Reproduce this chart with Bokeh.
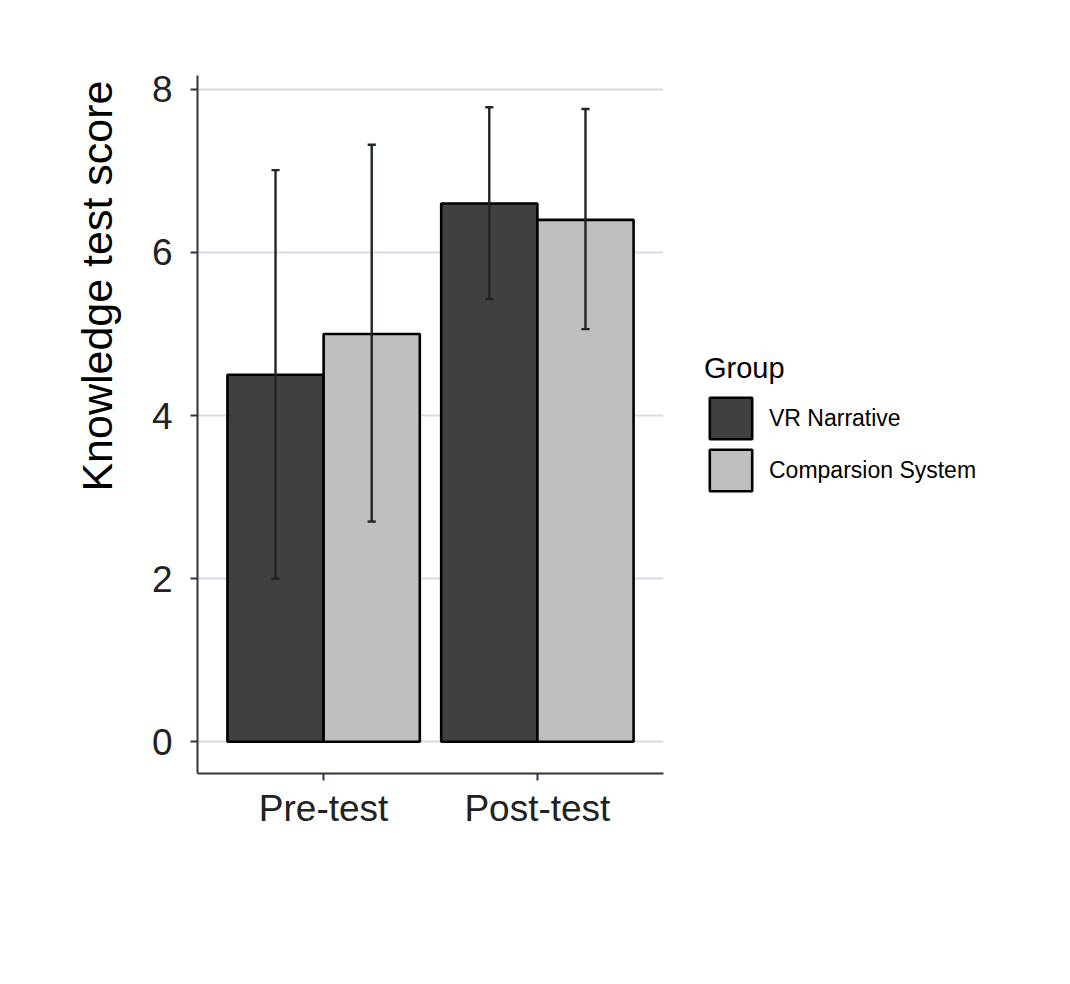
from bokeh.plotting import figure
from bokeh.models import Range1d, FixedTicker, Legend, LegendItem, ColumnDataSource, Title
from bokeh.embed import file_html
from bokeh.resources import INLINE

# ---- data ----
conditions = ["Pre-test", "Post-test"]
groups = ["VR Narrative", "Comparsion System"]
vr_mean = [4.5, 6.6]
vr_low = [2.0, 5.43]
vr_high = [7.01, 7.78]
cs_mean = [5.0, 6.4]
cs_low = [2.70, 5.06]
cs_high = [7.32, 7.76]
y_ticks = [0, 2, 4, 6, 8]
y_title = "Knowledge test score"

colors = ["#404040", "#bfbfbf"]
FONT = "Liberation Sans"
TXT = "#222222"

p = figure(frame_width=466, frame_height=698, output_backend="svg", toolbar_location=None,
           x_range=Range1d(0.41, 2.59), y_range=Range1d(-0.389, 8.17),
           min_border_left=197, min_border_top=75, min_border_right=387,
           min_border_bottom=187)
p.outline_line_color = None
p.background_fill_color = "white"
p.border_fill_color = "white"

xpos = [1, 2]
bw = 0.45
renderers = []
for i, (means, lows, highs) in enumerate([(vr_mean, vr_low, vr_high), (cs_mean, cs_low, cs_high)]):
    off = -bw / 2 if i == 0 else bw / 2
    xs = [x + off for x in xpos]
    src = ColumnDataSource(dict(x=xs, top=means))
    r = p.vbar(x="x", top="top", bottom=0, width=bw, source=src,
               fill_color=colors[i], line_color="black", line_width=2.6)
    renderers.append(r)
for i, (means, lows, highs) in enumerate([(vr_mean, vr_low, vr_high), (cs_mean, cs_low, cs_high)]):
    off = -bw / 2 if i == 0 else bw / 2
    xs = [x + off for x in xpos]
    cap = 0.019
    p.segment(x0=xs, y0=lows, x1=xs, y1=highs, line_color="#1f252b", line_width=2.4)
    p.segment(x0=[x - cap for x in xs], y0=lows, x1=[x + cap for x in xs], y1=lows,
              line_color="#1f252b", line_width=2.4)
    p.segment(x0=[x - cap for x in xs], y0=highs, x1=[x + cap for x in xs], y1=highs,
              line_color="#1f252b", line_width=2.4)

# grid
p.xgrid.grid_line_color = None
p.ygrid.ticker = FixedTicker(ticks=y_ticks)
p.ygrid.grid_line_color = "#d5dce3"
p.ygrid.grid_line_width = 2

# axes
for ax in (p.xaxis[0], p.yaxis[0]):
    ax.axis_line_color = "#2e3640"
    ax.axis_line_width = 2
    ax.major_tick_line_color = "#2e3640"
    ax.major_tick_line_width = 2
    ax.major_tick_out = 7
    ax.major_tick_in = 0
    ax.minor_tick_line_color = None
    ax.major_label_text_font = FONT
    ax.major_label_text_color = TXT
    ax.major_label_text_font_size = "37px"

p.yaxis.ticker = FixedTicker(ticks=y_ticks)
p.yaxis.major_label_standoff = 18

ytitle = Title(text=y_title, align="right", offset=5, standoff=56,
               text_font=FONT, text_font_style="normal", text_font_size="43px",
               text_color="black")
p.add_layout(ytitle, "left")

p.xaxis.ticker = FixedTicker(ticks=xpos)
p.xaxis.major_label_overrides = {1: conditions[0], 2: conditions[1]}
p.xaxis.major_label_standoff = 7

legend = Legend(items=[LegendItem(label=groups[0], renderers=[renderers[0]]),
                       LegendItem(label=groups[1], renderers=[renderers[1]])],
                location="center_left", orientation="vertical",
                title="Group", title_text_font=FONT, title_text_font_size="29px",
                title_text_font_style="normal", title_text_color="black",
                title_standoff=7,
                label_text_font=FONT, label_text_font_size="23px", label_text_color="black",
                glyph_width=53, glyph_height=52, label_height=52, spacing=0,
                label_standoff=12, padding=0, margin=41,
                border_line_color=None, background_fill_alpha=0)
p.add_layout(legend, "right")

open("out.html", "w").write(file_html(p, INLINE))
